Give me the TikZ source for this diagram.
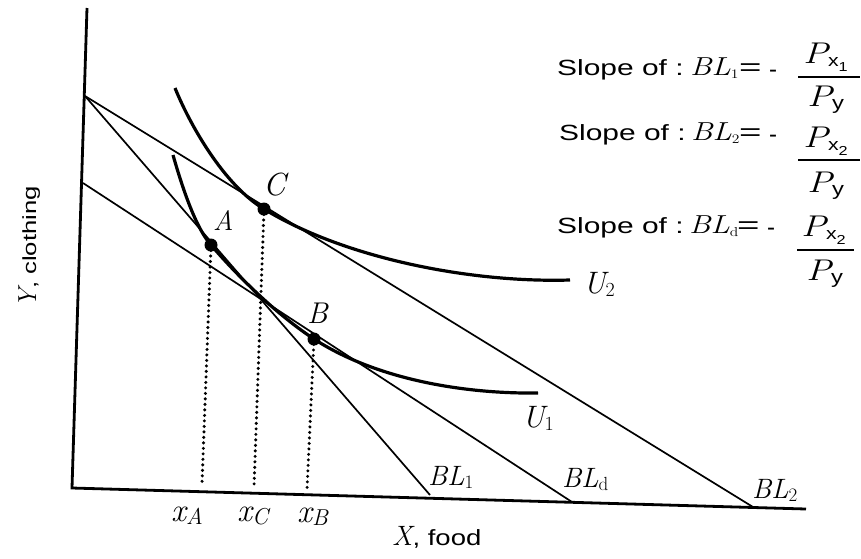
\documentclass[tikz,border=0pt]{standalone}
\usepackage{graphicx}
\usepackage{fontspec}
\setmainfont{Liberation Sans}
\newfontfamily\lmr{Latin Modern Roman}
\newcommand{\wide}[2][1.3]{\scalebox{#1}[1]{#2}}
\newcommand{\fs}[1]{\fontsize{#1}{#1}\selectfont}
\newcommand{\mi}[2]{{\fs{#1}\lmr\itshape #2}}
\newcommand{\sub}[2]{\raisebox{-0.3em}{\fs{#1}#2}}
\begin{document}
\begin{tikzpicture}[x=1pt,y=-1pt,
  axis/.style={line width=2.8pt},
  bline/.style={line width=1.7pt},
  ucurve/.style={line width=3.2pt},
  dotline/.style={line width=3.4pt,dash pattern=on 0pt off 5.5pt,line cap=round},
  dot/.style={circle,fill=black,inner sep=0pt,minimum size=13pt},
  lbl/.style={inner sep=0pt,anchor=base west},
  barline/.style={line width=1.3pt},
]
\useasboundingbox (0,0) rectangle (861,558);
\fill[white] (0,0) rectangle (861,558);
% axes
\coordinate (ytop) at (87,8);
\coordinate (O) at (72,488);
\coordinate (xend) at (806,509);
\draw[axis] (ytop) -- (O) -- (xend);
% budget lines
\coordinate (P1) at (85,96);
\coordinate (Pd) at (83,183);
\coordinate (E1) at (430,495);
\coordinate (Ed) at (572,502);
\coordinate (E2) at (753,507);
\draw[bline] (P1) -- (E1);
\draw[bline] (P1) -- (E2);
\draw[bline] (Pd) -- (Ed);
% tangency points
\node[dot] (A) at (211,245) {};
\node[dot] (B) at (314,339) {};
\node[dot] (C) at (264,209) {};
% indifference curves
\coordinate (u2s) at (175,88);
\coordinate (u2e) at (570,280);
\coordinate (u1s) at (173,155);
\coordinate (u1e) at (538,393);
\draw[ucurve] (u2s) .. controls (190,125) and (224,185) .. (C.center)
  .. controls (344,258) and (470,283) .. (u2e);
\draw[ucurve] (u1s) .. controls (183,190) and (196,228) .. (A.center)
  .. controls (241,280) and (279,316) .. (B.center)
  .. controls (374,378) and (460,394) .. (u1e);
% dotted drop lines
\coordinate (xa) at (202,484);
\coordinate (xc) at (254,487);
\coordinate (xb) at (307,490);
\draw[dotline] (A.center) -- (xa);
\draw[dotline] (C.center) -- (xc);
\draw[dotline] (B.center) -- (xb);
% point labels
\node[lbl] (lA) at (213,230) {\mi{28}{A}};
\node[lbl] (lB) at (307,323) {\mi{30}{B}};
\node[lbl] (lC) at (263,195) {\mi{32}{C}};
\node[lbl] (lU2) at (583,293) {\mi{31}{U}\sub{20}{\lmr 2}};
\node[lbl] (lU1) at (522,427) {\mi{31}{U}\sub{20}{\lmr 1}};
% budget line labels
\node[lbl] (lBL1) at (428,485) {\mi{28}{BL}\sub{19}{\lmr 1}};
\node[lbl] (lBLd) at (562,487) {\mi{28}{BL}\sub{19}{\lmr d}};
\node[lbl] (lBL2) at (752,498) {\mi{28}{BL}\sub{19}{\lmr 2}};
% axis labels
\node[lbl] (lxA) at (171,521) {\mi{33}{x}\sub{23}{\lmr\itshape A}};
\node[lbl] (lxC) at (237,521) {\mi{33}{x}\sub{23}{\lmr\itshape C}};
\node[lbl] (lxB) at (297,522) {\mi{33}{x}\sub{23}{\lmr\itshape B}};
\node[lbl] (lX) at (392,545) {\mi{28}{X}\wide[1.25]{\fs{22}, food}};
\node[lbl,rotate=90] (lY) at (36,308) {\mi{26}{Y}\wide[1.35]{\fs{19}, clothing}};
% slope formulas
\node[lbl] (s1) at (557,75) {\wide[1.36]{\fs{22}Slope of :}};
\node[lbl] (b1) at (690,75) {\wide[1.2]{\mi{26}{BL}\sub{13}{\lmr 1}}};
\node[lbl] (e1) at (739,75) {\wide[1.6]{\fs{24}=}};
\node[lbl] (m1) at (769,77) {\fs{24}-};
\node[lbl] (s2) at (559,140) {\wide[1.36]{\fs{22}Slope of :}};
\node[lbl] (b2) at (691,140) {\wide[1.2]{\mi{26}{BL}\sub{13}{\lmr 2}}};
\node[lbl] (e2) at (739,140) {\wide[1.6]{\fs{24}=}};
\node[lbl] (m2) at (769,142) {\fs{24}-};
\node[lbl] (s3) at (557,233) {\wide[1.36]{\fs{22}Slope of :}};
\node[lbl] (b3) at (689,233) {\wide[1.2]{\mi{26}{BL}\sub{13}{\lmr d}}};
\node[lbl] (e3) at (737,233) {\wide[1.6]{\fs{24}=}};
\node[lbl] (m3) at (767,235) {\fs{24}-};
% fractions
\node[lbl] (n1) at (803,63) {\wide[1.25]{\mi{30}{P}\sub{17}{x\sub{13}{1}}}};
\node[lbl] (d1) at (807,106) {\wide[1.25]{\mi{30}{P}\sub{19}{y}}};
\draw[barline] ([xshift=-5pt,yshift=-14pt]n1.base west) -- ([xshift=57pt,yshift=-14pt]n1.base west);
\node[lbl] (n2) at (803,147) {\wide[1.25]{\mi{30}{P}\sub{17}{x\sub{13}{2}}}};
\node[lbl] (d2) at (807,192) {\wide[1.25]{\mi{30}{P}\sub{19}{y}}};
\draw[barline] ([xshift=-5pt,yshift=-13pt]n2.base west) -- ([xshift=57pt,yshift=-13pt]n2.base west);
\node[lbl] (n3) at (801,236) {\wide[1.25]{\mi{30}{P}\sub{17}{x\sub{13}{2}}}};
\node[lbl] (d3) at (806,280) {\wide[1.25]{\mi{30}{P}\sub{19}{y}}};
\draw[barline] ([xshift=-4pt,yshift=-14pt]n3.base west) -- ([xshift=53pt,yshift=-14pt]n3.base west);
\end{tikzpicture}
\end{document}
